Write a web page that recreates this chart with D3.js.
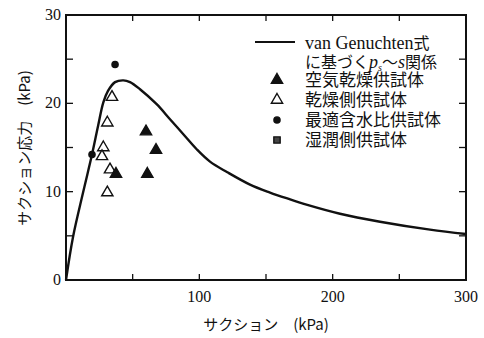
<!DOCTYPE html>
<html>
<head>
<meta charset="utf-8">
<script src="https://cdn.jsdelivr.net/npm/d3@7"></script>
<style>
  body { margin: 0; background: #fff; }
  svg { display: block; }
  .tick-label { font-family: "Liberation Serif", "DejaVu Serif", serif; font-size: 16px; fill: #111; }
  .jp { font-family: "Noto Sans CJK JP", sans-serif; fill: #111; }
</style>
</head>
<body>
<div class="chart"></div>
<script>
'use strict';

// suction (kPa) vs suction stress (kPa)
var xTicks = [100, 200, 300];
var yTicks = [0, 10, 20, 30];
var xMinor = [50, 100, 150, 200, 250];
var yMinor = [5, 10, 15, 20, 25];

// van Genuchten based curve
var curveS = [0, 5.3, 12.8, 19.5, 24, 28, 31.5, 36.8, 43, 48, 55.5, 68, 78, 88, 98, 108, 121, 138, 153, 166.5, 181, 205.5, 235.5, 273, 300];
var curveP = [0, 4.9, 9.9, 14.2, 17.4, 20.1, 21.4, 22.4, 22.6, 22.4, 21.6, 19.9, 18.2, 16.5, 14.8, 13.4, 12.2, 10.8, 9.9, 9.2, 8.5, 7.5, 6.6, 5.7, 5.2];

// air dried specimens (filled triangles)
var airDryS = [60, 67.5, 37.5, 61];
var airDryP = [16.8, 14.7, 12.0, 12.0];

// dry side specimens (open triangles)
var drySideS = [34.5, 31, 28, 27, 33, 31];
var drySideP = [20.7, 17.8, 15.0, 14.0, 12.5, 9.9];

// optimum water content specimens (filled circles)
var optimumS = [36.8, 19.5];
var optimumP = [24.4, 14.2];

var legendLabels = ['空気乾燥供試体', '乾燥側供試体', '最適含水比供試体', '湿潤側供試体'];

var width = 484, height = 338;
var margin = {left: 66, right: 18, top: 15, bottom: 58};

var svg = d3.select('.chart')
  .append('svg')
  .attr('width', width)
  .attr('height', height);

var xScale = d3.scaleLinear()
  .domain([0, 300])
  .range([margin.left, width - margin.right]);
var yScale = d3.scaleLinear()
  .domain([0, 30])
  .range([height - margin.bottom, margin.top]);

function zip(a, b) {
  return a.map(function (v, i) { return {x: v, y: b[i]}; });
}

// frame
svg.append('rect')
  .attr('x', xScale(0))
  .attr('y', yScale(30))
  .attr('width', xScale(300) - xScale(0))
  .attr('height', yScale(0) - yScale(30))
  .attr('fill', 'none')
  .attr('stroke', '#111')
  .attr('stroke-width', 2);

// inward ticks on all four sides
var ticks = svg.append('g').attr('stroke', '#111').attr('stroke-width', 1.3);
xMinor.forEach(function (v) {
  ticks.append('line').attr('x1', xScale(v)).attr('x2', xScale(v))
    .attr('y1', yScale(0)).attr('y2', yScale(0) - 6);
  ticks.append('line').attr('x1', xScale(v)).attr('x2', xScale(v))
    .attr('y1', yScale(30)).attr('y2', yScale(30) + 6);
});
yMinor.forEach(function (v) {
  ticks.append('line').attr('x1', xScale(0)).attr('x2', xScale(0) + 7)
    .attr('y1', yScale(v)).attr('y2', yScale(v));
  ticks.append('line').attr('x1', xScale(300)).attr('x2', xScale(300) - 7)
    .attr('y1', yScale(v)).attr('y2', yScale(v));
});

// tick labels
svg.selectAll('text.xl')
  .data(xTicks)
  .enter()
  .append('text')
  .attr('class', 'tick-label')
  .attr('x', function (d) { return xScale(d); })
  .attr('y', yScale(0) + 22)
  .attr('text-anchor', 'middle')
  .text(function (d) { return d; });

svg.selectAll('text.yl')
  .data(yTicks)
  .enter()
  .append('text')
  .attr('class', 'tick-label')
  .attr('x', xScale(0) - 5)
  .attr('y', function (d) { return yScale(d) + 5; })
  .attr('text-anchor', 'end')
  .text(function (d) { return d; });

// axis titles
svg.append('text')
  .attr('class', 'jp')
  .attr('font-size', 15)
  .attr('text-anchor', 'middle')
  .attr('x', 266)
  .attr('y', 330)
  .text('サクション　(kPa)');

svg.append('text')
  .attr('class', 'jp')
  .attr('font-size', 15)
  .attr('text-anchor', 'middle')
  .attr('transform', 'translate(30,' + 148 + ')rotate(-90)')
  .text('サクション応力　(kPa)');

// curve
var line = d3.line()
  .x(function (d) { return xScale(d.x); })
  .y(function (d) { return yScale(d.y); })
  .curve(d3.curveCatmullRom.alpha(0.5));

svg.append('path')
  .datum(zip(curveS, curveP))
  .attr('d', line)
  .attr('fill', 'none')
  .attr('stroke', '#111')
  .attr('stroke-width', 2.4);

// markers
var tri = d3.symbol().type(d3.symbolTriangle).size(55);
var dot = d3.symbol().type(d3.symbolCircle).size(30);

function plot(data, sym, fill, cls) {
  svg.selectAll('path.' + cls)
    .data(data)
    .enter()
    .append('path')
    .attr('class', cls)
    .attr('d', sym)
    .attr('transform', function (d) { return 'translate(' + xScale(d.x) + ',' + yScale(d.y) + ')'; })
    .attr('fill', fill)
    .attr('stroke', '#111')
    .attr('stroke-width', 1.4);
}
plot(zip(drySideS, drySideP), tri, '#fff', 'open');
plot(zip(airDryS, airDryP), tri, '#111', 'filled');
plot(zip(optimumS, optimumP), dot, '#111', 'dot');

// legend
var lg = svg.append('g');
lg.append('line')
  .attr('x1', 255).attr('x2', 295)
  .attr('y1', 42).attr('y2', 42)
  .attr('stroke', '#111').attr('stroke-width', 2);
lg.append('text')
  .attr('x', 305).attr('y', 49)
  .attr('font-size', 18)
  .attr('font-family', '"Liberation Serif", serif')
  .attr('fill', '#111')
  .text('van Genuchten')
  .append('tspan')
  .attr('class', 'jp')
  .attr('font-size', 16)
  .text('式');

var l2 = lg.append('text')
  .attr('class', 'jp')
  .attr('x', 305).attr('y', 68)
  .attr('font-size', 16);
l2.append('tspan').text('に基づく');
l2.append('tspan').attr('font-family', '"Liberation Serif", serif').attr('font-style', 'italic').attr('font-size', 18).text('p');
l2.append('tspan').attr('font-family', '"Liberation Serif", serif').attr('font-style', 'italic').attr('font-size', 10).attr('dy', 3).text('s');
l2.append('tspan').attr('dy', -3).text('～');
l2.append('tspan').attr('font-family', '"Liberation Serif", serif').attr('font-style', 'italic').attr('font-size', 18).text('s');
l2.append('tspan').text('関係');

var legendSyms = [
  {sym: tri, fill: '#111'},
  {sym: tri, fill: '#fff'},
  {sym: dot, fill: '#111'},
  {sym: d3.symbol().type(d3.symbolSquare).size(40), fill: '#444'}
];
legendLabels.forEach(function (t, i) {
  var y = 80 + i * 20;
  lg.append('path')
    .attr('d', legendSyms[i].sym)
    .attr('transform', 'translate(277,' + y + ')')
    .attr('fill', legendSyms[i].fill)
    .attr('stroke', '#111')
    .attr('stroke-width', 1.4);
  lg.append('text')
    .attr('class', 'jp')
    .attr('x', 305)
    .attr('y', y + 6)
    .attr('font-size', 17)
    .text(t);
});
</script>
</body>
</html>
